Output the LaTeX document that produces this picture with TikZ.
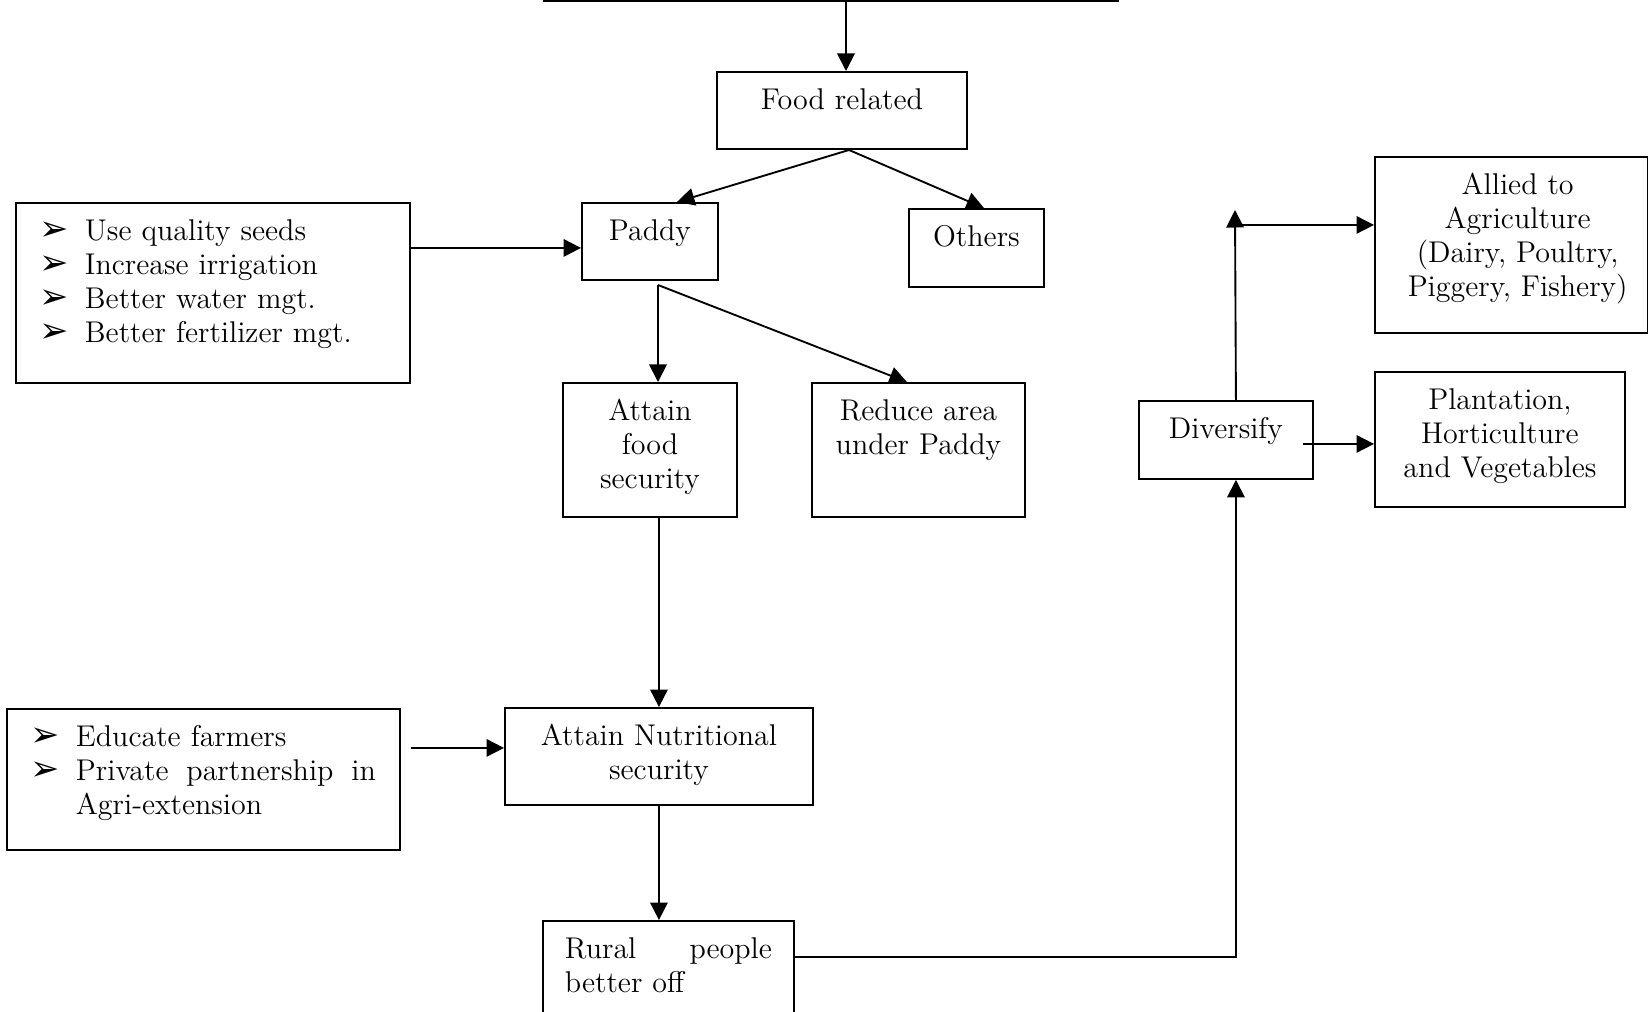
\documentclass[tikz,border=0pt]{standalone}
\usepackage{fontspec}
\newfontfamily\symfont{DejaVu Sans}
\usepackage{tikz}
\usetikzlibrary{arrows.meta}

\newcommand{\bul}{\makebox[18pt][l]{\symfont\fontsize{14}{14}\selectfont ➢}}

\begin{document}
\begin{tikzpicture}[x=0.4pt,y=-0.4pt]

  %Styles for picture
  \tikzset
  {
  box/.style={draw, rectangle, line width=0.75pt, inner ysep=0pt, inner xsep=4pt, anchor=north west, align=center, text height=15.2pt, font=\fontsize{12}{13.6}\selectfont},
  listbox/.style={box, align=left, inner xsep=9.6pt},
  link/.style={line width=0.75pt, ->, >={Triangle[length=7pt,width=7pt]}},
  }

  \useasboundingbox (0,0) rectangle (1648,1012);

  % Nodes
  \node[box, text width=92pt, text depth=15.6pt] (food) at (716,71) {Food related};
  \node[box, text width=46.4pt, text depth=15.6pt] (paddy) at (581,202) {Paddy};
  \node[box, text width=46pt, text depth=16pt] (others) at (908,208) {Others};
  \node[listbox, text width=138.4pt, text depth=56.8pt] (inputs) at (15,202)
    {\bul Use quality seeds\\ \bul Increase irrigation\\ \bul Better water mgt.\\ \bul Better fertilizer mgt.};
  \node[box, text width=61.6pt, text depth=38.4pt] (secure) at (562,382) {Attain\\ food\\ security};
  \node[box, text width=77.2pt, text depth=38.4pt] (reduce) at (811,382) {Reduce area\\ under Paddy};
  \node[box, text width=115.2pt, text depth=23.6pt] (nutri) at (504,707) {Attain Nutritional\\ security};
  \node[listbox, text width=138pt, text depth=41.2pt] (extn) at (6,708)
    {\bul Educate farmers\\ \bul\makebox[120pt]{Private\hfill partnership\hfill in}\\ \hspace*{18pt}Agri-extension};
  \node[box, align=left, inner xsep=8.8pt, text width=82.8pt, text depth=32.8pt] (rural) at (542,920)
    {\makebox[\linewidth]{Rural\hfill people}\\ better off};
  \node[box, text width=61.6pt, text depth=16pt] (divers) at (1138,400) {Diversify};
  \node[box, text width=101.2pt, text depth=55.2pt] (allied) at (1374,156)
    {\hspace*{5pt}Allied to\\ \hspace*{5pt}Agriculture\\ \hspace*{5pt}(Dairy, Poultry,\\ \hspace*{5pt}Piggery, Fishery)};
  \node[box, text width=92pt, text depth=38.8pt] (plant) at (1374,371)
    {Plantation,\\ Horticulture\\ and Vegetables};

  % Helper points
  \coordinate (tl) at (543,1);
  \coordinate (tr) at (1119,1);
  \coordinate (top) at (846,1);
  \coordinate (fsplit) at (849,150);
  \coordinate (psplit) at (658,285);
  \coordinate (pin) at ([yshift=-2.6pt]paddy.west);
  \coordinate (nin) at ([yshift=3.4pt]nutri.west);
  \coordinate (up) at ([xshift=4pt]divers.north);
  \coordinate (uptip) at (1235,210);
  \coordinate (ain) at ([yshift=8pt]allied.west);
  \coordinate (pl) at ([yshift=-1.8pt]plant.west);

  % Edges
  \draw[line width=0.75pt] (tl) -- (tr);
  \draw[link] (top) -- (top |- food.north);
  \draw[link] (fsplit) -- ([xshift=10.8pt]paddy.north);
  \draw[link] (fsplit) -- ([xshift=3pt]others.north);
  \draw[link] (inputs.east |- pin) -- (pin);
  \draw[link] (psplit) -- (psplit |- secure.north);
  \draw[link] (psplit) -- ([xshift=-4.6pt]reduce.north);
  \draw[link] (nutri.north |- secure.south) -- (nutri.north);
  \draw[link] ([xshift=4pt]extn.east |- nin) -- (nin);
  \draw[link] (nutri.south) -- (nutri.south |- rural.north);
  \draw[link] ([yshift=-14.8pt]rural.north east) -| ([xshift=4pt]divers.south);
  \draw[link] (up) -- (uptip);
  \draw[link] (up |- ain) -- (ain);
  \draw[link] ([xshift=-4.4pt]divers.east |- pl) -- (pl);
\end{tikzpicture}
\end{document}
